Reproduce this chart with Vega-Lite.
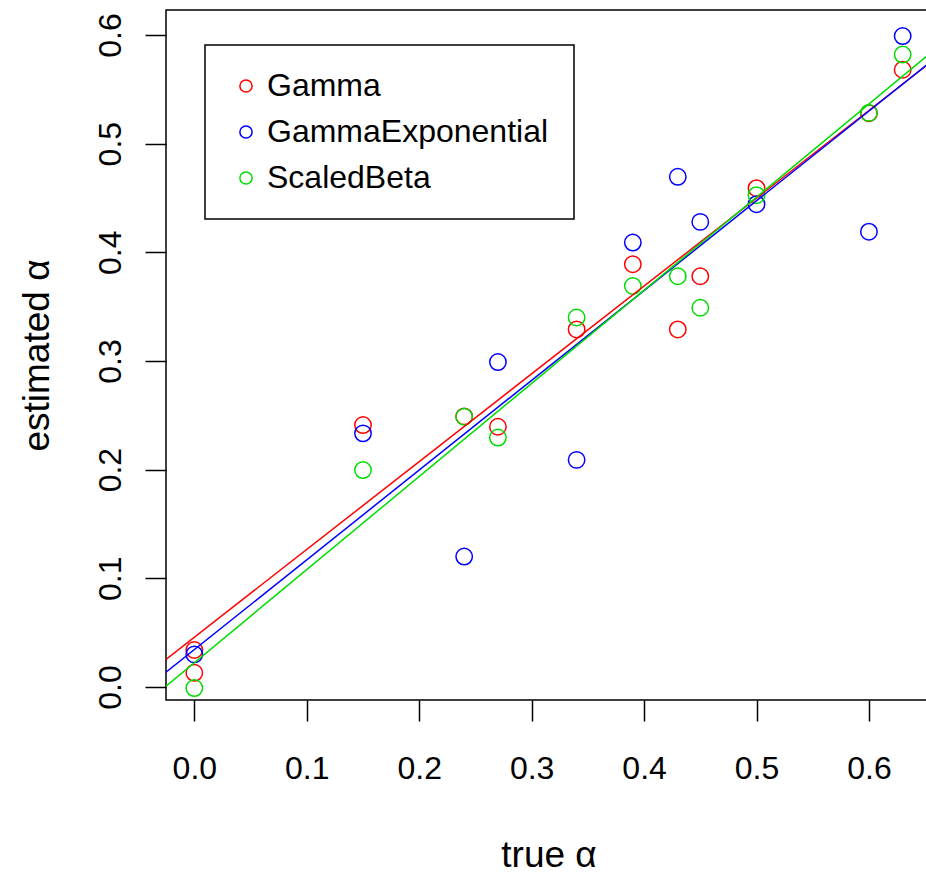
{
  "$schema": "https://vega.github.io/schema/vega-lite/v6.json",
  "autosize": {"type": "none"},
  "padding": {"left": 166, "top": 10, "right": 0, "bottom": 175},
  "width": 765,
  "height": 690,
  "background": "white",
  "config": {
    "view": {"stroke": "black", "strokeWidth": 1.5},
    "font": "Liberation Sans",
    "axis": {
      "grid": false,
      "domain": false,
      "tickColor": "black",
      "tickWidth": 1.5,
      "tickSize": 21,
      "labelFont": "Liberation Sans",
      "labelFontSize": 32,
      "labelColor": "black",
      "titleFont": "Liberation Sans",
      "titleFontSize": 37,
      "titleFontWeight": "normal",
      "titleColor": "black",
      "labelFlush": false,
      "labelOverlap": false
    },
    "legend": {
      "orient": "none",
      "legendX": 39,
      "legendY": 35,
      "strokeColor": "black",
      "strokeWidth": 1.5,
      "fillColor": "white",
      "padding": 25,
      "rowPadding": 14,
      "labelFont": "Liberation Sans",
      "labelFontSize": 32,
      "labelColor": "black",
      "labelOffset": 5,
      "symbolSize": 150,
      "symbolStrokeWidth": 1.5,
      "symbolType": "circle",
      "labelLimit": 400
    }
  },
  "datasets": {
    "pts": [
      {"model": "Gamma", "truth": 0.0, "est": 0.034},
      {"model": "Gamma", "truth": 0.0, "est": 0.013},
      {"model": "Gamma", "truth": 0.15, "est": 0.241},
      {"model": "Gamma", "truth": 0.24, "est": 0.249},
      {"model": "Gamma", "truth": 0.27, "est": 0.2395},
      {"model": "Gamma", "truth": 0.34, "est": 0.329},
      {"model": "Gamma", "truth": 0.39, "est": 0.389},
      {"model": "Gamma", "truth": 0.43, "est": 0.329},
      {"model": "Gamma", "truth": 0.45, "est": 0.378},
      {"model": "Gamma", "truth": 0.5, "est": 0.459},
      {"model": "Gamma", "truth": 0.6, "est": 0.528},
      {"model": "Gamma", "truth": 0.63, "est": 0.568},
      {"model": "GammaExponential", "truth": 0.0, "est": 0.030},
      {"model": "GammaExponential", "truth": 0.15, "est": 0.2334},
      {"model": "GammaExponential", "truth": 0.24, "est": 0.12},
      {"model": "GammaExponential", "truth": 0.27, "est": 0.299},
      {"model": "GammaExponential", "truth": 0.34, "est": 0.209},
      {"model": "GammaExponential", "truth": 0.39, "est": 0.409},
      {"model": "GammaExponential", "truth": 0.43, "est": 0.4695},
      {"model": "GammaExponential", "truth": 0.45, "est": 0.428},
      {"model": "GammaExponential", "truth": 0.5, "est": 0.4443},
      {"model": "GammaExponential", "truth": 0.6, "est": 0.419},
      {"model": "GammaExponential", "truth": 0.63, "est": 0.599},
      {"model": "ScaledBeta", "truth": 0.0, "est": -0.001},
      {"model": "ScaledBeta", "truth": 0.15, "est": 0.1996},
      {"model": "ScaledBeta", "truth": 0.24, "est": 0.2487},
      {"model": "ScaledBeta", "truth": 0.27, "est": 0.2295},
      {"model": "ScaledBeta", "truth": 0.34, "est": 0.34},
      {"model": "ScaledBeta", "truth": 0.39, "est": 0.369},
      {"model": "ScaledBeta", "truth": 0.43, "est": 0.378},
      {"model": "ScaledBeta", "truth": 0.45, "est": 0.349},
      {"model": "ScaledBeta", "truth": 0.5, "est": 0.4526},
      {"model": "ScaledBeta", "truth": 0.6, "est": 0.5283},
      {"model": "ScaledBeta", "truth": 0.63, "est": 0.582}
    ],
    "fits": [
      {"model": "Gamma", "truth": -0.0252, "est": 0.0254},
      {"model": "Gamma", "truth": 0.6552, "est": 0.5752},
      {"model": "GammaExponential", "truth": -0.0252, "est": 0.0136},
      {"model": "GammaExponential", "truth": 0.6552, "est": 0.5756},
      {"model": "ScaledBeta", "truth": -0.0252, "est": 0.0007},
      {"model": "ScaledBeta", "truth": 0.6552, "est": 0.5838}
    ]
  },
  "layer": [
    {
      "data": {"name": "pts"},
      "mark": {"type": "point", "shape": "circle", "filled": false, "strokeWidth": 1.5, "size": 270, "opacity": 1},
      "encoding": {
        "x": {
          "field": "truth", "type": "quantitative",
          "scale": {"domain": [-0.0252, 0.6552], "nice": false, "zero": false},
          "axis": {
            "values": [0, 0.1, 0.2, 0.3, 0.4, 0.5, 0.6],
            "format": ".1f",
            "labelBaseline": "alphabetic",
            "labelPadding": 57,
            "title": "true α",
            "titleBaseline": "alphabetic",
            "titleY": 166
          }
        },
        "y": {
          "field": "est", "type": "quantitative",
          "scale": {"domain": [-0.012, 0.623], "nice": false, "zero": false},
          "axis": {
            "values": [0, 0.1, 0.2, 0.3, 0.4, 0.5, 0.6],
            "format": ".1f",
            "labelAngle": 270,
            "labelAlign": "center",
            "labelBaseline": "alphabetic",
            "labelPadding": 25,
            "title": "estimated α",
            "titleAngle": 270,
            "titleBaseline": "alphabetic",
            "titleAlign": "center",
            "titleX": -118,
            "titleY": 345
          }
        },
        "color": {
          "field": "model", "type": "nominal",
          "scale": {"domain": ["Gamma", "GammaExponential", "ScaledBeta"], "range": ["#ff0000", "#0000ff", "#00dd00"]},
          "legend": {"title": null}
        },
        "order": {"field": "model", "sort": "ascending"}
      }
    },
    {
      "data": {"name": "fits"},
      "mark": {"type": "line", "strokeWidth": 1.5, "clip": true},
      "encoding": {
        "x": {"field": "truth", "type": "quantitative"},
        "y": {"field": "est", "type": "quantitative"},
        "stroke": {
          "field": "model", "type": "nominal",
          "scale": {"domain": ["Gamma", "GammaExponential", "ScaledBeta"], "range": ["#ff0000", "#0000ff", "#00dd00"]},
          "legend": null
        }
      }
    }
  ]
}
